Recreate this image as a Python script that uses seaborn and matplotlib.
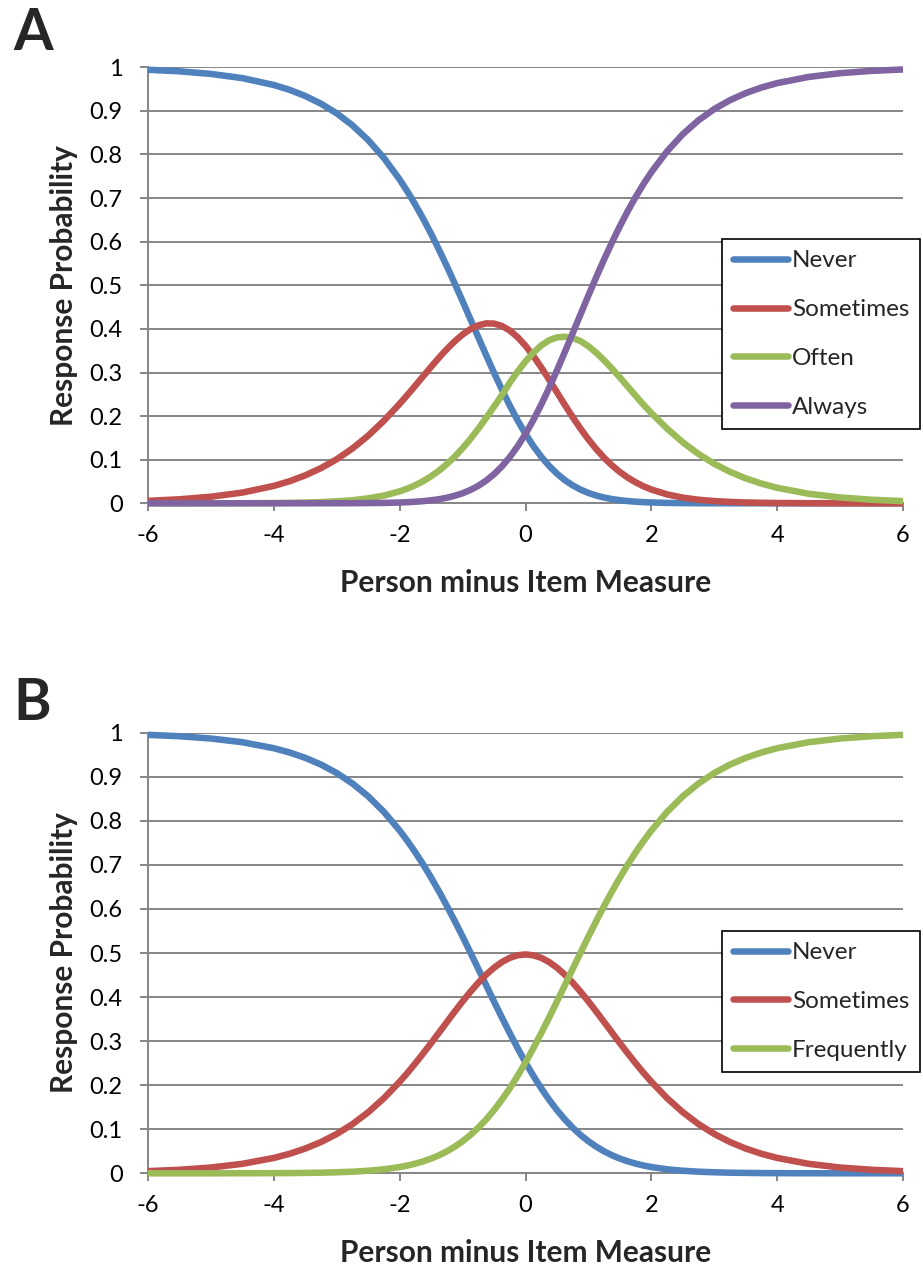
import matplotlib
matplotlib.use("Agg")
import matplotlib.pyplot as plt
from matplotlib.lines import Line2D
import seaborn as sns
import pandas as pd

# ---------------- data ----------------
x_values = [-6, -5.5, -5, -4.5, -4, -3.75, -3.5, -3.25, -3, -2.75, -2.5, -2.25,
            -2, -1.875, -1.75, -1.625, -1.5, -1.375, -1.25, -1.125, -1, -0.875, -0.75,
            -0.625, -0.5, -0.375, -0.25, -0.125, 0, 0.125, 0.25, 0.375, 0.5, 0.625, 0.75,
            0.875, 1, 1.125, 1.25, 1.375, 1.5, 1.625, 1.75, 1.875, 2,
            2.25, 2.5, 2.75, 3, 3.25, 3.5, 3.75, 4, 4.5, 5, 5.5, 6]

# Panel A
labels_a = ["Never", "Sometimes", "Often", "Always"]
never_a = [0.9944, 0.9908, 0.9848, 0.9752, 0.9594, 0.9483, 0.9342, 0.9165, 0.8943, 0.8668,
           0.8330, 0.7919,
           0.7426, 0.7147, 0.6846, 0.6524, 0.6181, 0.5817, 0.5437, 0.5041, 0.4635, 0.4221,
           0.3806, 0.3395, 0.2993, 0.2607, 0.2241, 0.1901, 0.1591, 0.1313, 0.1069, 0.0859,
           0.0680, 0.0532, 0.0411, 0.0314, 0.0237, 0.0178, 0.0132, 0.0097, 0.0071, 0.0051,
           0.0037, 0.0026, 0.0019,
           0.0009, 0.0005, 0.0002, 0.0001, 0.0001, 0.0000, 0.0000, 0.0000, 0.0000, 0.0000,
           0.0000, 0.0000]
sometimes_a = [0.0056, 0.0092, 0.0151, 0.0246, 0.0399, 0.0506, 0.0641, 0.0807, 0.1011, 0.1258,
               0.1552, 0.1895,
               0.2282, 0.2489, 0.2701, 0.2917, 0.3131, 0.3340, 0.3537, 0.3716, 0.3871, 0.3996,
               0.4082, 0.4126, 0.4122, 0.4068, 0.3963, 0.3810, 0.3613, 0.3379, 0.3117, 0.2836,
               0.2547, 0.2257, 0.1976, 0.1711, 0.1465, 0.1242, 0.1043, 0.0869, 0.0718, 0.0590,
               0.0482, 0.0391, 0.0316,
               0.0204, 0.0130, 0.0082, 0.0051, 0.0032, 0.0019, 0.0012, 0.0007, 0.0003, 0.0001,
               0.0000, 0.0000]
often_a = [0.0000, 0.0000, 0.0001, 0.0002, 0.0006, 0.0011, 0.0017, 0.0028, 0.0045, 0.0071,
           0.0113, 0.0177,
           0.0274, 0.0338, 0.0416, 0.0509, 0.0620, 0.0749, 0.0899, 0.1070, 0.1263, 0.1477,
           0.1710, 0.1959, 0.2217, 0.2482, 0.2767, 0.3022, 0.3254, 0.3456, 0.3620, 0.3740,
           0.3804, 0.3820, 0.3791, 0.3720, 0.3601, 0.3452, 0.3279, 0.3088, 0.2886, 0.2677,
           0.2468, 0.2261, 0.2070,
           0.1714, 0.1399, 0.1131, 0.0906, 0.0722, 0.0572, 0.0452, 0.0355, 0.0219, 0.0134,
           0.0082, 0.0050]
always_a = [0.0000, 0.0000, 0.0000, 0.0000, 0.0000, 0.0000, 0.0000, 0.0001, 0.0001, 0.0002,
            0.0005, 0.0009,
            0.0018, 0.0026, 0.0036, 0.0050, 0.0069, 0.0094, 0.0128, 0.0173, 0.0231, 0.0306,
            0.0401, 0.0521, 0.0668, 0.0846, 0.1059, 0.1307, 0.1591, 0.1911, 0.2264, 0.2645,
            0.3049, 0.3470, 0.3901, 0.4336, 0.4767, 0.5189, 0.5596, 0.5986, 0.6355, 0.6702,
            0.7024, 0.7322, 0.7595,
            0.8073, 0.8466, 0.8785, 0.9042, 0.9246, 0.9408, 0.9536, 0.9637, 0.9779, 0.9865,
            0.9918, 0.9950]

# Panel B
labels_b = ["Never", "Sometimes", "Frequently"]
never_b = [0.9951, 0.9920, 0.9868, 0.9784, 0.9648, 0.9551, 0.9429, 0.9276, 0.9085, 0.8847,
           0.8556, 0.8202,
           0.7779, 0.7540, 0.7282, 0.7006, 0.6710, 0.6398, 0.6069, 0.5727, 0.5372, 0.5008,
           0.4639, 0.4268, 0.3898, 0.3535, 0.3181, 0.2840, 0.2516, 0.2212, 0.1929, 0.1670,
           0.1434, 0.1223, 0.1035, 0.0870, 0.0727, 0.0604, 0.0498, 0.0409, 0.0334, 0.0272,
           0.0220, 0.0177, 0.0142,
           0.0091, 0.0058, 0.0036, 0.0023, 0.0014, 0.0009, 0.0005, 0.0003, 0.0001, 0.0000,
           0.0000, 0.0000]
sometimes_b = [0.0049, 0.0080, 0.0131, 0.0215, 0.0349, 0.0443, 0.0562, 0.0710, 0.0893, 0.1116,
               0.1386, 0.1706,
               0.2078, 0.2282, 0.2498, 0.2723, 0.2955, 0.3193, 0.3432, 0.3670, 0.3901, 0.4121,
               0.4326, 0.4509, 0.4667, 0.4795, 0.4890, 0.4948, 0.4967, 0.4948, 0.4890, 0.4795,
               0.4667, 0.4509, 0.4326, 0.4121, 0.3901, 0.3670, 0.3432, 0.3193, 0.2955, 0.2723,
               0.2498, 0.2282, 0.2078,
               0.1706, 0.1386, 0.1116, 0.0893, 0.0710, 0.0562, 0.0443, 0.0349, 0.0215, 0.0131,
               0.0080, 0.0049]
frequently_b = [0.0000, 0.0000, 0.0000, 0.0001, 0.0003, 0.0005, 0.0009, 0.0014, 0.0023, 0.0036,
                0.0058, 0.0091,
                0.0142, 0.0177, 0.0220, 0.0272, 0.0334, 0.0409, 0.0498, 0.0604, 0.0727, 0.0870,
                0.1035, 0.1223, 0.1434, 0.1670, 0.1929, 0.2212, 0.2516, 0.2840, 0.3181, 0.3535,
                0.3898, 0.4268, 0.4639, 0.5008, 0.5372, 0.5727, 0.6069, 0.6398, 0.6710, 0.7006,
                0.7282, 0.7540, 0.7779,
                0.8202, 0.8556, 0.8847, 0.9085, 0.9276, 0.9429, 0.9551, 0.9648, 0.9784, 0.9868,
                0.9920, 0.9951]

x_ticks = [-6, -4, -2, 0, 2, 4, 6]
x_tick_labels = ["-6", "-4", "-2", "0", "2", "4", "6"]
y_ticks = [0, 0.1, 0.2, 0.3, 0.4, 0.5, 0.6, 0.7, 0.8, 0.9, 1.0]
y_tick_labels = ["0", "0.1", "0.2", "0.3", "0.4", "0.5", "0.6", "0.7", "0.8", "0.9", "1"]
x_label = "Person minus Item Measure"
y_label = "Response Probability"

# ---------------- style ----------------
sns.set_theme(style="white")
plt.rcParams["font.family"] = ["Lato", "DejaVu Sans"]

colors_a = ["#4F81BD", "#C0504D", "#9BBB59", "#8064A2"]
colors_b = ["#4F81BD", "#C0504D", "#9BBB59"]
GRID = "#868686"
LW = 4.7

W, H = 923, 1266
fig = plt.figure(figsize=(W / 100, H / 100), dpi=100)


def make_panel(rect, labels, series, colors, letter, letter_y, legend_top):
    ax = fig.add_axes(rect)
    frames = []
    for lab, vals in zip(labels, series):
        frames.append(pd.DataFrame({"x": x_values, "p": vals, "cat": lab}))
    df = pd.concat(frames, ignore_index=True)
    sns.lineplot(data=df, x="x", y="p", hue="cat", hue_order=labels,
                 palette=colors, linewidth=LW, estimator=None, sort=False,
                 legend=False, ax=ax)
    for ln in ax.get_lines():
        ln.set_clip_on(False)
        ln.set_solid_capstyle("butt")
        ln.set_solid_joinstyle("round")
        ln.set_zorder(3)

    ax.set_xlim(-6, 6)
    ax.set_ylim(0, 1)
    ax.set_xticks(x_ticks)
    ax.set_xticklabels(x_tick_labels)
    ax.set_yticks(y_ticks)
    ax.set_yticklabels(y_tick_labels)
    ax.set_xlabel("")
    ax.set_ylabel("")
    ax.set_axisbelow(True)
    ax.yaxis.grid(True, color=GRID, linewidth=1.4)
    ax.xaxis.grid(False)
    for s in ["top", "right"]:
        ax.spines[s].set_visible(False)
    for s in ["left", "bottom"]:
        ax.spines[s].set_color(GRID)
        ax.spines[s].set_linewidth(1.4)
    ax.tick_params(axis="both", which="major", direction="out", length=5.8,
                   width=1.4, color=GRID, labelsize=17, labelcolor="black")
    ax.tick_params(axis="y", pad=12.5)
    ax.tick_params(axis="x", pad=10)
    ax.tick_params(left=True, bottom=True)

    handles = [Line2D([0], [0], color=c, linewidth=LW) for c in colors]
    leg = ax.legend(handles, labels, loc="upper left",
                    bbox_to_anchor=(0.76, legend_top), borderaxespad=0,
                    fontsize=17.5, frameon=True, fancybox=False, framealpha=1,
                    edgecolor="black", handlelength=2.26, handletextpad=0.16,
                    labelspacing=1.14, borderpad=0.46)
    leg.get_frame().set_linewidth(1.2)
    leg.set_zorder(5)

    # axis titles
    top_px = (1 - rect[1] - rect[3]) * H
    bot_px = (1 - rect[1]) * H
    fig.text(64 / W, 1 - ((top_px + bot_px) / 2) / H, y_label, rotation=90,
             ha="center", va="center", fontsize=21.5, fontweight="bold")
    fig.text(526 / W, 1 - (bot_px + 88.5) / H, x_label, ha="center",
             va="baseline", fontsize=21.5, fontweight="bold")
    fig.text(13 / W, 1 - letter_y / H, letter, ha="left", va="baseline",
             fontsize=41, fontweight="bold")
    return ax


left = 148 / W
width = 755 / W
make_panel([left, 1 - 503.3 / H, width, 436 / H], labels_a,
           [never_a, sometimes_a, often_a, always_a], colors_a, "A", 50, 0.6055)
make_panel([left, 1 - 1173.3 / H, width, 440.6 / H], labels_b,
           [never_b, sometimes_b, frequently_b], colors_b, "B", 720, 0.55)

fig.savefig("out.png", dpi=100)
